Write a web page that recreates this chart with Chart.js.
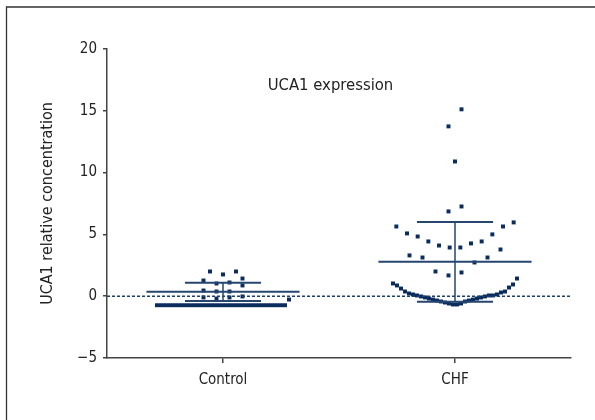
<!DOCTYPE html>
<html>
<head>
<meta charset="utf-8">
<script src="https://cdn.jsdelivr.net/npm/chart.js@4"></script>
<style>
  html, body { margin: 0; padding: 0; background: #fff; }
  #wrap { width: 595px; height: 420px; position: relative; }
</style>
</head>
<body>
<div id="wrap"><canvas id="myChart" width="595" height="420"></canvas></div>
<script>
// data
const groups = ["Control", "CHF"];
const controlValues = [
  -0.73, -0.73, -0.73, -0.73, -0.73, -0.73, -0.73, -0.73, -0.73, -0.73, -0.73,
  -0.73, -0.73, -0.73, -0.73, -0.73, -0.73, -0.73, -0.73, -0.73, -0.73, -0.73,
  -0.73, -0.73, -0.73, -0.73, -0.73, -0.73, -0.73, -0.73, -0.73, -0.73, -0.73,
  -0.27, -0.19, -0.1, -0.1, -0.02, 0.38, 0.38, 0.46, 0.87, 1.03, 1.11, 1.27,
  1.43, 1.76, 2.0, 2.0
];
const chfValues = [
  -0.67, -0.67, -0.59, -0.59, -0.51, -0.43, -0.43, -0.35, -0.35, -0.27, -0.27,
  -0.19, -0.19, -0.1, -0.1, -0.02, -0.02, 0.06, 0.06, 0.06, 0.14, 0.14, 0.22,
  0.3, 0.38, 0.38, 0.62, 0.7, 0.87, 0.95, 1.03, 1.43,
  1.68, 1.92, 2.0, 2.73, 3.13, 3.13, 3.3, 3.78, 3.94, 3.94, 4.1, 4.27, 4.43,
  4.43, 4.83, 5.0, 5.08, 5.64, 5.64, 5.97, 6.86, 7.26, 10.9, 13.74, 15.12
];
const means = [0.35, 2.78];
const sds = [0.73, 3.22];
const yTicks = [-5, 0, 5, 10, 15, 20];
const titleText = "UCA1 expression";
const yLabel = "UCA1 relative concentration";

const navy = "#0b2d5e";
const lineCol = "#24466f";
const axisCol = "#444";
const font = '"DejaVu Sans Condensed", "DejaVu Sans", sans-serif';

// simple row-based dot spreading (like a column scatter plot)
const pxPerUnit = 232;
function swarm(values, center, rowHeight) {
  const sorted = values.slice().sort((a, b) => a - b);
  const pts = [];
  let i = 0;
  while (i < sorted.length) {
    const row = [];
    const start = sorted[i];
    while (i < sorted.length && sorted[i] - start <= rowHeight) {
      row.push(sorted[i]);
      i++;
    }
    const step = Math.min(13, Math.max(4, 128 / row.length)) / pxPerUnit;
    const even = row.length % 2 === 0;
    row.forEach((v, k) => {
      let off;
      if (even) off = (k % 2 === 1 ? 1 : -1) * (Math.floor(k / 2) + 0.5);
      else off = (k % 2 === 1 ? 1 : -1) * Math.ceil(k / 2);
      pts.push({ x: center + off * step, y: v });
    });
  }
  return pts;
}

function seg(x1, y1, x2, y2, width, dash) {
  return {
    type: "scatter",
    data: [{ x: x1, y: y1 }, { x: x2, y: y2 }],
    showLine: true,
    borderColor: lineCol,
    borderWidth: width,
    borderDash: dash || [],
    pointRadius: 0,
  };
}

const datasets = [];
groups.forEach((g, i) => {
  const c = i + 1;
  const m = means[i], s = sds[i];
  datasets.push(seg(c - 0.33, m, c + 0.33, m, 2));
  datasets.push(seg(c - 0.164, m + s, c + 0.164, m + s, 2));
  datasets.push(seg(c - 0.164, m - s, c + 0.164, m - s, 2));
  datasets.push(seg(c, m - s, c, m + s, 1.5));
});
const zero = seg(0.5, 0, 2.5, 0, 1.5, [3, 2]);
zero.borderColor = "#1d3f6e";
datasets.push(zero);

const rowHeights = [0.5, 2.2];
[controlValues, chfValues].forEach((vals, i) => {
  datasets.push({
    label: groups[i],
    data: swarm(vals, i + 1, rowHeights[i]),
    pointStyle: "rect",
    pointRadius: 2.8,
    pointBackgroundColor: navy,
    pointBorderWidth: 0,
    showLine: false,
  });
});

const framePlugin = {
  id: "frame",
  beforeDraw(chart) {
    const ctx = chart.ctx;
    ctx.save();
    ctx.fillStyle = "#fff";
    ctx.fillRect(0, 0, chart.width, chart.height);
    ctx.strokeStyle = "#333";
    ctx.lineWidth = 1.3;
    ctx.beginPath();
    ctx.moveTo(6.5, 420);
    ctx.lineTo(6.5, 7);
    ctx.lineTo(595, 7);
    ctx.stroke();
    ctx.restore();
  },
  afterDraw(chart) {
    const ctx = chart.ctx;
    ctx.save();
    ctx.font = "16.5px " + font;
    ctx.fillStyle = "#222";
    ctx.textAlign = "center";
    ctx.textBaseline = "alphabetic";
    ctx.fillText(titleText, 330.5, 90);
    ctx.restore();
  }
};

const ctx = document.getElementById("myChart").getContext("2d");
const myChart = new Chart(ctx, {
  type: "scatter",
  data: { datasets: datasets },
  plugins: [framePlugin],
  options: {
    responsive: false,
    animation: false,
    devicePixelRatio: 1,
    layout: { padding: { top: 49, right: 24, left: 0, bottom: 0 } },
    plugins: { legend: { display: false }, tooltip: { enabled: false }, title: { display: false } },
    scales: {
      x: {
        type: "linear",
        min: 0.5,
        max: 2.5,
        afterBuildTicks: (scale) => { scale.ticks = groups.map((g, i) => ({ value: i + 1 })); },
        afterFit: (scale) => { scale.height = 62; },
        ticks: {
          autoSkip: false,
          padding: 8,
          color: "#222",
          font: { family: font, size: 15 },
          callback: (v) => groups[Math.round(v) - 1],
        },
        grid: { drawOnChartArea: false, tickLength: 5, color: axisCol, lineWidth: 1.5 },
        border: { color: axisCol, width: 1.5 },
      },
      y: {
        min: -5,
        max: 20,
        afterBuildTicks: (scale) => { scale.ticks = yTicks.map((v) => ({ value: v })); },
        afterFit: (scale) => { scale.width = 107; },
        ticks: {
          padding: 6,
          color: "#222",
          font: { family: font, size: 15 },
          callback: (v) => String(v).replace("-", "\u2212"),
        },
        grid: { drawOnChartArea: false, tickLength: 4, color: axisCol, lineWidth: 1.5 },
        border: { color: axisCol, width: 1.5 },
        title: {
          display: true,
          text: yLabel,
          color: "#222",
          font: { family: font, size: 16 },
          padding: { top: 38.4, bottom: 0 },
        },
      },
    },
  },
});
</script>
</body>
</html>
